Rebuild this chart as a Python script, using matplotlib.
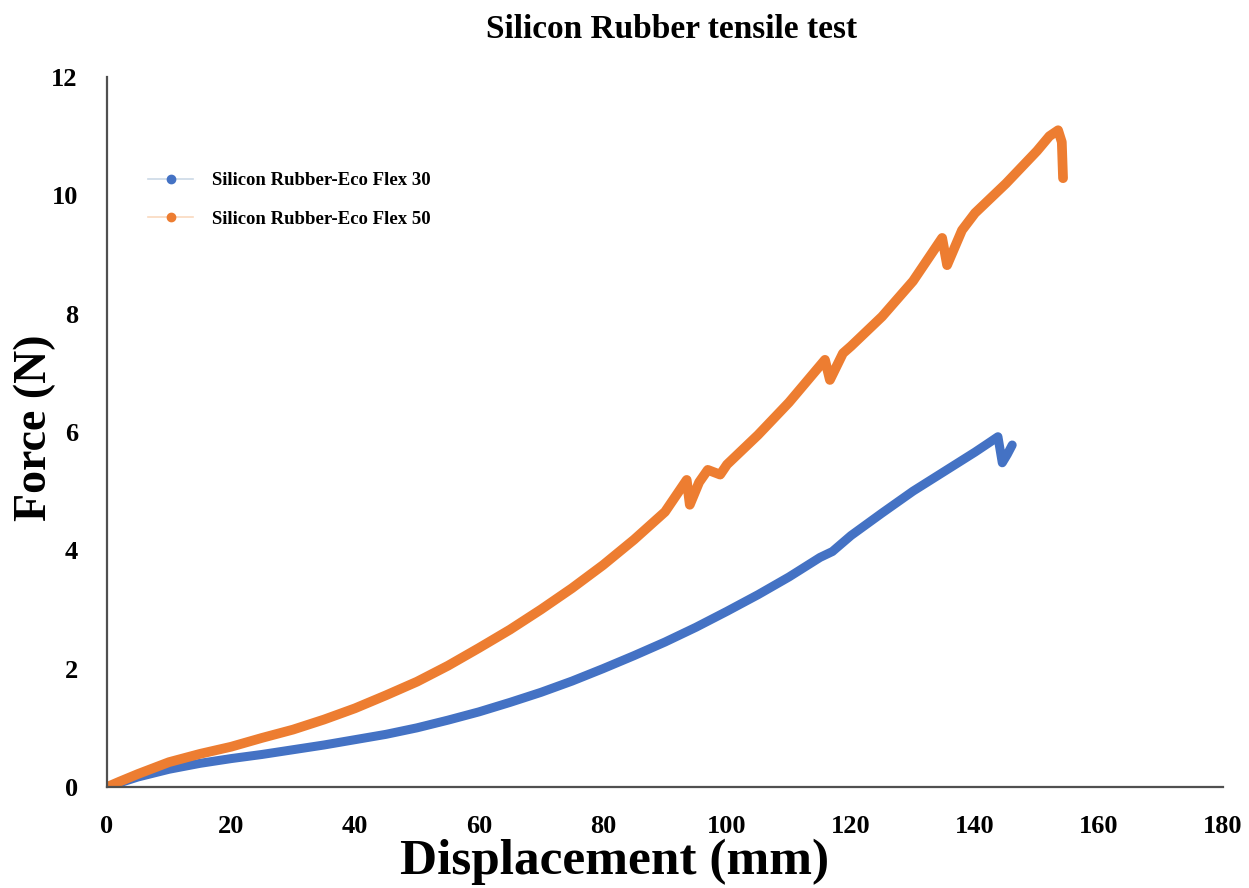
import matplotlib
matplotlib.use("Agg")
import matplotlib.pyplot as plt
from matplotlib.lines import Line2D

# ---- data ----
flex30_x = [0, 2, 5, 10, 15, 20, 25, 30, 35, 40, 45, 50, 55, 60, 65, 70, 75, 80, 85,
            90, 95, 100, 105, 110, 115, 117, 120, 125, 130, 135, 140, 142, 143.7,
            144.4, 145.2, 146.0]
flex30_y = [0, 0.07, 0.17, 0.3, 0.4, 0.48, 0.55, 0.63, 0.71, 0.8, 0.89, 1.0, 1.13,
            1.27, 1.43, 1.6, 1.79, 2.0, 2.22, 2.45, 2.7, 2.97, 3.25, 3.55, 3.88, 3.98,
            4.25, 4.63, 5.0, 5.33, 5.66, 5.8, 5.92, 5.48, 5.62, 5.78]

flex50_x = [0, 2, 5, 8, 10, 15, 20, 25, 30, 35, 40, 45, 50, 55, 60, 65, 70, 75, 80,
            85, 90, 93.5, 94.0, 95.5, 96.9, 98.9, 100, 105, 110, 115.8, 116.6, 118.7,
            120, 125, 130, 134.7, 135.5, 137.9, 140, 145, 150, 152, 153.4, 154.0, 154.2]
flex50_y = [0, 0.09, 0.22, 0.34, 0.42, 0.56, 0.68, 0.83, 0.97, 1.14, 1.33, 1.55, 1.78,
            2.05, 2.35, 2.66, 3.0, 3.36, 3.75, 4.18, 4.65, 5.19, 4.77, 5.15, 5.36, 5.28,
            5.45, 5.95, 6.5, 7.22, 6.88, 7.33, 7.45, 7.95, 8.55, 9.28, 8.82, 9.41, 9.7,
            10.2, 10.75, 11.0, 11.1, 10.9, 10.29]

series_labels = ["Silicon Rubber-Eco Flex 30", "Silicon Rubber-Eco Flex 50"]
x_ticks = [0, 20, 40, 60, 80, 100, 120, 140, 160, 180]
y_ticks = [0, 2, 4, 6, 8, 10, 12]

title = "Silicon Rubber tensile test"
xlabel = "Displacement (mm)"
ylabel = "Force (N)"

BLUE = "#4472C4"
ORANGE = "#ED7D31"
SERIF = ["Liberation Serif", "DejaVu Serif"]

fig = plt.figure(figsize=(12.49, 8.88), dpi=100)
ax = fig.add_axes([107 / 1249, 1 - 787 / 888, (1223 - 107) / 1249, (787 - 77) / 888])

ax.plot(flex30_x, flex30_y, color=BLUE, lw=6.5, solid_capstyle="round",
        solid_joinstyle="round")
ax.plot(flex50_x, flex50_y, color=ORANGE, lw=7, solid_capstyle="round",
        solid_joinstyle="round")

ax.set_xlim(0, 180)
ax.set_ylim(0, 12)
ax.set_xticks(x_ticks)
ax.set_yticks(y_ticks)
ax.tick_params(length=0, labelsize=19)
ax.tick_params(axis="x", pad=20)
ax.tick_params(axis="y", pad=21)
for lab in ax.get_xticklabels() + ax.get_yticklabels():
    lab.set_fontfamily(SERIF)
    lab.set_fontweight("bold")

for s in ["top", "right"]:
    ax.spines[s].set_visible(False)
for s in ["left", "bottom"]:
    ax.spines[s].set_color("#505050")
    ax.spines[s].set_linewidth(1.6)

fig.text(672 / 1249, 1 - 30 / 888, title, ha="center", va="center",
         fontsize=24, fontweight="bold", family=SERIF)
fig.text(615 / 1249, 1 - 862 / 888, xlabel, ha="center", va="center",
         fontsize=37, fontweight="bold", family=SERIF)
fig.text(35 / 1249, 1 - 428 / 888, ylabel, ha="center", va="center",
         rotation=90, fontsize=33, fontweight="bold", family=SERIF)

handles = [
    Line2D([0], [0], color=(0.8, 0.85, 0.9), lw=1.2, marker="o", ms=6,
           markerfacecolor=BLUE, markeredgecolor=BLUE),
    Line2D([0], [0], color=(0.98, 0.85, 0.75), lw=1.2, marker="o", ms=6,
           markerfacecolor=ORANGE, markeredgecolor=ORANGE),
]

leg = fig.legend(handles, series_labels, loc="upper left",
                 bbox_to_anchor=(148 / 1249, 1 - 172 / 888),
                 frameon=False, borderpad=0, borderaxespad=0,
                 handlelength=2.4, handletextpad=1.0, labelspacing=1.15,
                 prop={"family": SERIF, "weight": "bold", "size": 13.5})

fig.savefig("out.png", dpi=100)
